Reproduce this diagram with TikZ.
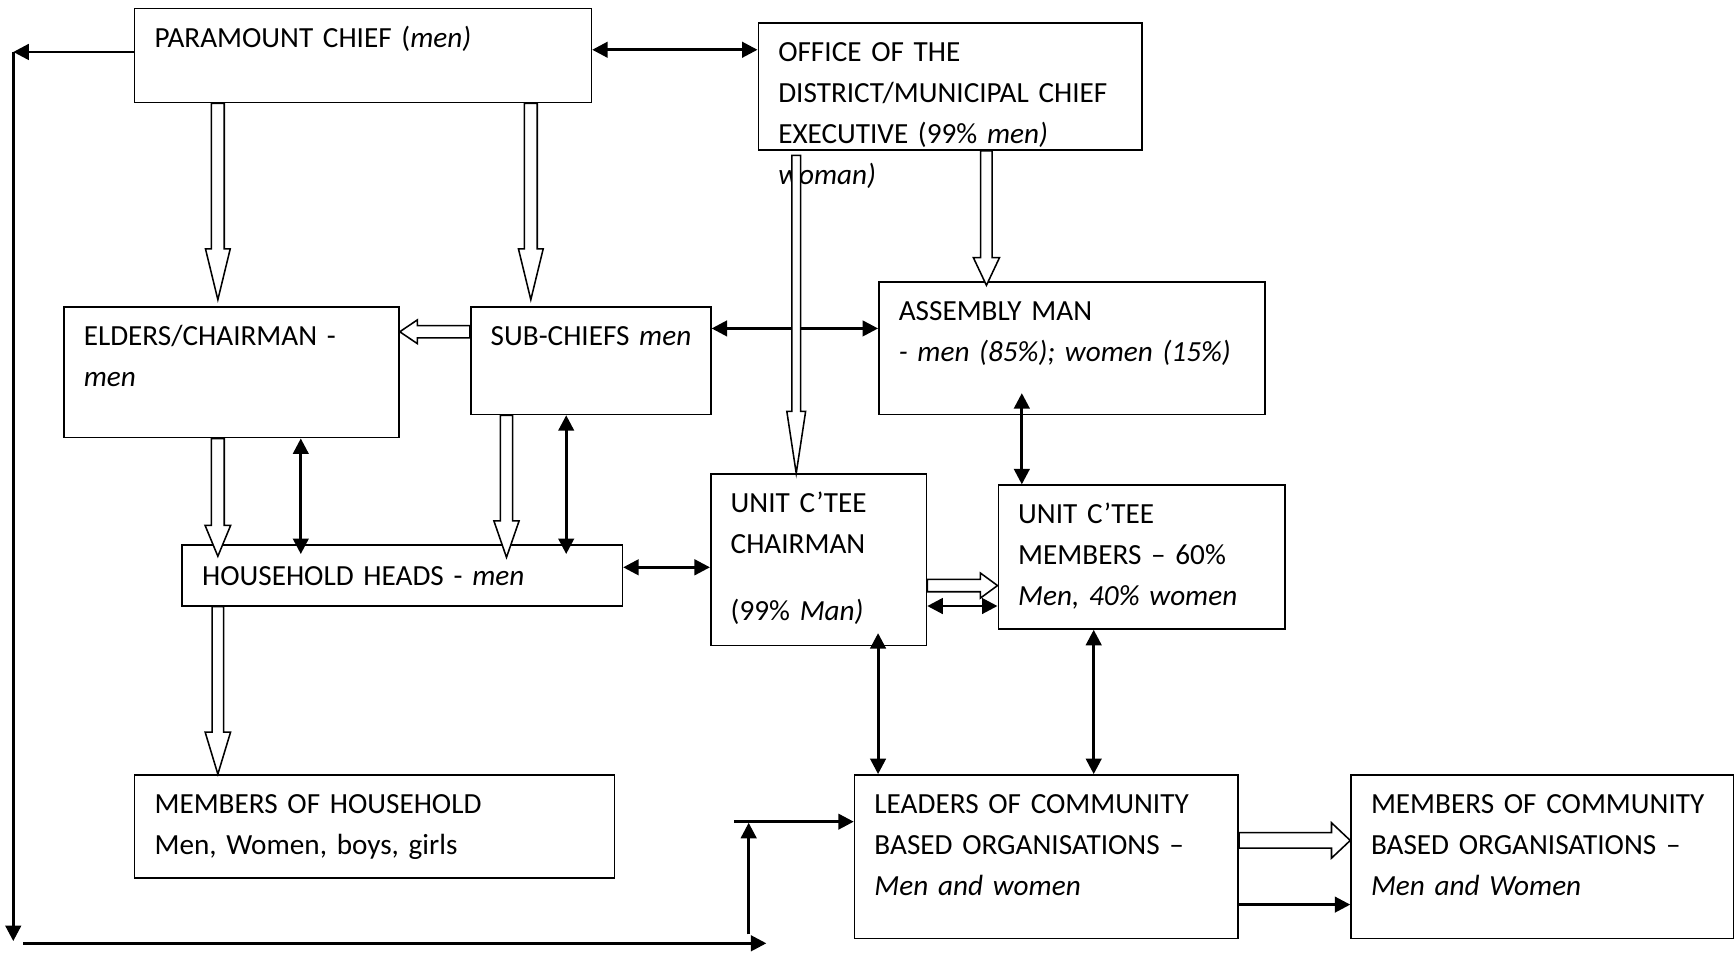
\documentclass[tikz,border=0pt]{standalone}
\usepackage{fontspec}
\setmainfont{Carlito}
\usetikzlibrary{arrows.meta, positioning, calc}
\tikzset{
  box/.style={draw, line width=0.75pt, anchor=north west, align=left, inner xsep=9pt, inner ysep=0pt,
    text height=17.5pt, font=\fontsize{13.2pt}{18.5pt}\selectfont},
  arr/.style={-{Triangle[length=7pt, width=7pt]}, line width=1.3pt},
  dbl/.style={{Triangle[length=7pt, width=7pt]}-{Triangle[length=7pt, width=7pt]}, line width=1.3pt},
  hollow/.style n args={3}{draw, fill=white, line width=0.7pt, line join=miter,
    to path={let \p1=(\tikztostart), \p2=(\tikztotarget),
      \n1={atan2(\y2-\y1,\x2-\x1)}, \n2={veclen(\x2-\x1,\y2-\y1)} in
      [shift={(\p1)}, rotate=\n1]
      (0pt,-#1) -- ({\n2*1pt-#3},-#1) -- ({\n2*1pt-#3},-#2) -- ({\n2*1pt},0pt)
      -- ({\n2*1pt-#3},#2) -- ({\n2*1pt-#3},#1) -- (0pt,#1) -- cycle}},
}

\begin{document}
\begin{tikzpicture}[x=0.5pt, y=-0.5pt]
    \useasboundingbox (0,0) rectangle (1568,861);
    % boxes
    \node[box, text width=188.5pt, text depth=25pt] (par) at (121,7) {PARAMOUNT CHIEF (\textit{men)}};
    \node[box, text width=155.5pt, text depth=40pt] (off) at (685,20)
      {OFFICE OF THE\\DISTRICT/MUNICIPAL CHIEF\\EXECUTIVE (99\% \textit{men)}\\\textit{woman)}};
    \node[box, text width=133.5pt, text depth=41.5pt] (eld) at (57,277) {ELDERS/CHAIRMAN -\\\textit{men}};
    \node[box, text width=90.5pt, text depth=31pt] (sub) at (425,277) {\mbox{SUB-CHIEFS \textit{men}}};
    \node[box, text width=156.5pt, text depth=42.5pt] (asm) at (794,254)
      {ASSEMBLY MAN\\\textit{- men (85\%); women (15\%)}};
    \node[box, text width=181pt, text height=18.5pt, text depth=9pt] (hh) at (164,492)
      {HOUSEHOLD HEADS - \textit{men}};
    \node[box, text width=79.5pt, text depth=60pt] (uch) at (642,428)
      {UNIT C’TEE\\CHAIRMAN\\[11.5pt](99\% \textit{Man)}};
    \node[box, text width=111.5pt, text depth=47.5pt] (ucm) at (902,438)
      {UNIT C’TEE\\MEMBERS – 60\%\\\textit{Men, 40\% women}};
    \node[box, text width=199pt, text depth=29pt] (moh) at (121,700)
      {MEMBERS OF HOUSEHOLD\\Men, Women, boys, girls};
    \node[box, text width=155.5pt, text depth=56.5pt] (lcb) at (772,700)
      {LEADERS OF COMMUNITY\\BASED ORGANISATIONS –\\\textit{Men and women}};
    \node[box, text width=155pt, text depth=56.5pt] (mcb) at (1221,700)
      {MEMBERS OF COMMUNITY\\BASED ORGANISATIONS –\\\textit{Men and Women}};
    % loop round the left and bottom
    \coordinate (fb1) at (12,47);
    \coordinate (fb2) at (12,851);
    \coordinate (fb3) at (21,853);
    \coordinate (fb4) at (693,853);
    \coordinate (fb5) at (677,845);
    \coordinate (fb6) at (677,744);
    \coordinate (fb7) at (664,743);
    \draw[arr] (par.west |- fb1) -- (fb1);
    \draw[arr] (fb1) -- (fb2);
    \draw[arr] (fb3) -- (fb4);
    \draw[arr] (fb5) -- (fb6);
    \draw[arr] (fb7) -- (lcb.west |- fb7);
    % two-way links
    \draw[dbl] (par.east |- 0,45) -- (off.west |- 0,45);
    \draw[dbl] (sub.east |- 0,297) -- (asm.west |- 0,297);
    \draw[dbl, shorten >=-4.5pt] (eld.south -| 272,0) -- (hh.north -| 272,0);
    \draw[dbl, shorten >=-4.5pt] (sub.south -| 512,0) -- (hh.north -| 512,0);
    \draw[dbl] (hh.east |- 0,513) -- (uch.west |- 0,513);
    \draw[dbl, shorten <=-10pt] (asm.south -| 924,0) -- (ucm.north -| 924,0);
    \draw[dbl] (uch.east |- 0,548) -- (ucm.west |- 0,548);
    \draw[dbl, shorten <=-6pt] (uch.south -| 794,0) -- (lcb.north -| 794,0);
    \draw[dbl] (ucm.south -| 989,0) -- (lcb.north -| 989,0);
    \draw[arr] (lcb.east |- 0,818) -- (mcb.west |- 0,818);
    % block arrows
    \draw[hollow={2.9pt}{5.6pt}{23pt}] (par.south -| 197,0) to ($(eld.north -| 197,0)+(0,-6)$);
    \draw[hollow={2.9pt}{5.6pt}{23pt}] (par.south -| 480,0) to ($(sub.north -| 480,0)+(0,-6)$);
    \draw[hollow={2.6pt}{5.9pt}{12.5pt}] (off.south -| 892,0) to ($(asm.north -| 892,0)+(0,4)$);
    \draw[hollow={2pt}{4.25pt}{28pt}] ($(off.south -| 720,0)+(0,4)$) to (uch.north -| 720,0);
    \draw[hollow={2.75pt}{5.4pt}{8pt}] (sub.west |- 0,300) to (eld.east |- 0,300);
    \draw[hollow={2.9pt}{5.8pt}{14pt}] (eld.south -| 197,0) to ($(hh.north -| 197,0)+(0,11)$);
    \draw[hollow={2.75pt}{5.7pt}{16.5pt}] (sub.south -| 458,0) to ($(hh.north -| 458,0)+(0,12)$);
    \draw[hollow={2.6pt}{5.75pt}{19pt}] (hh.south -| 197,0) to (moh.north -| 197,0);
    \draw[hollow={2.8pt}{5.65pt}{7.7pt}] (uch.east |- 0,529.5) to (ucm.west |- 0,529.5);
    \draw[hollow={3.5pt}{8pt}{8.5pt}] (lcb.east |- 0,760) to (mcb.west |- 0,760);
\end{tikzpicture}
\end{document}
